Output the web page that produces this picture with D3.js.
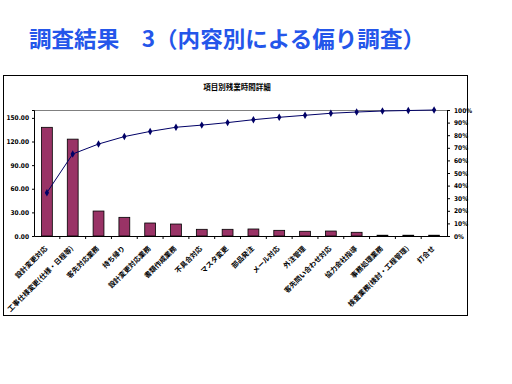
<!DOCTYPE html>
<html><head><meta charset="utf-8">
<script src="https://cdn.jsdelivr.net/npm/d3@7"></script>
<style>body{margin:0;background:#fff}svg{display:block}</style>
</head><body>
<script>
const categories = ["設計変更対応","工事仕様変更(仕様・日程等)","客先対応業務","持ち帰り","設計変更対応業務","書類作成業務","不具合対応","マスタ変更","部品発注","メール対応","外注管理","客先問い合わせ対応","協力会社指導","事務処理業務","検査業務(検討・工程管理)","打合せ"];
const hours = [138, 123, 31.7, 23.7, 16.5, 15.2, 8.5, 8.5, 8.9, 7.2, 6.0, 6.3, 4.7, 1.0, 1.0, 1.0];
const cumulativePct = [34.4, 65.1, 73.0, 78.9, 83.0, 86.3, 88.0, 90.0, 92.3, 94.2, 95.8, 97.4, 98.4, 99.2, 99.6, 100];
const leftTicks = [0, 30, 60, 90, 120, 150];
const rightTicks = [0,10,20,30,40,50,60,70,80,90,100];
const slideTitle = "調査結果　3（内容別による偏り調査）";
const chartTitle = "項目別残業時間詳細";

const W = 512, H = 384;
const svg = d3.select("body").append("svg").attr("width", W).attr("height", H);
const font = "'Noto Sans CJK JP', 'Noto Sans', sans-serif";

svg.append("text").attr("x", 29).attr("y", 47).attr("font-family", font)
  .attr("font-size", 22).attr("font-weight", "bold").attr("fill", "#2456ea")
  .attr("textLength", 396).attr("lengthAdjust", "spacingAndGlyphs").text(slideTitle);

// chart frame
svg.append("rect").attr("x", 3.5).attr("y", 75.5).attr("width", 464).attr("height", 240)
  .attr("fill", "#fff").attr("stroke", "#000").attr("stroke-width", 1);

svg.append("text").attr("x", 237).attr("y", 90).attr("text-anchor", "middle")
  .attr("font-family", font).attr("font-size", 7.5).attr("font-weight", "bold").text(chartTitle);

const L = 34, R = 447, T = 110, B = 236;
const x = d3.scaleBand().domain(categories).range([L, R]).paddingInner(0).paddingOuter(0);
const y = d3.scaleLinear().domain([0, 160]).range([B, T]);
const y2 = d3.scaleLinear().domain([0, 100]).range([B, T]);

// plot area top border
svg.append("line").attr("x1", L).attr("x2", R).attr("y1", T + 0.5).attr("y2", T + 0.5).attr("stroke", "#808080");

const bw = x.bandwidth() * 0.42;
svg.append("g").selectAll("rect").data(hours).join("rect")
  .attr("x", (d, i) => x(categories[i]) + (x.bandwidth() - bw) / 2)
  .attr("y", d => y(d)).attr("width", bw).attr("height", d => B - y(d))
  .attr("fill", "#993366").attr("stroke", "#000").attr("stroke-width", 0.8);

// left axis
const gl = svg.append("g").attr("transform", `translate(${L},0)`)
  .call(d3.axisLeft(y).tickValues(leftTicks).tickSize(2).tickFormat(d3.format(".2f")));
gl.selectAll("text").attr("font-family", "'DejaVu Sans Condensed', 'Liberation Sans Narrow', sans-serif")
  .attr("font-size", 6.5).attr("font-weight", "bold").attr("x", -5);

// right axis
const gr = svg.append("g").attr("transform", `translate(${R},0)`)
  .call(d3.axisRight(y2).tickValues(rightTicks).tickSize(3).tickFormat(d => d + "%"));
gr.selectAll("text").attr("font-family", "'DejaVu Sans Condensed', 'Liberation Sans Narrow', sans-serif")
  .attr("font-size", 6.5).attr("font-weight", "bold").attr("x", 7);

// bottom axis
const gb = svg.append("g").attr("transform", `translate(0,${B})`)
  .call(d3.axisBottom(x).tickSize(0).tickFormat(""));
gb.selectAll(".boundary").data(categories.slice(1)).join("line").attr("class", "boundary")
  .attr("x1", d => x(d)).attr("x2", d => x(d)).attr("y1", 0).attr("y2", 3).attr("stroke", "#000");
svg.selectAll(".domain").attr("stroke", "#000");

// category labels
svg.append("g").selectAll("text").data(categories).join("text")
  .attr("transform", d => `translate(${x(d) + x.bandwidth() / 2 + 1},${B + 13}) rotate(-45)`)
  .attr("text-anchor", "end").attr("font-family", font).attr("font-size", 7)
  .attr("font-weight", "bold").text(d => d);

// cumulative line
const line = d3.line().x((d, i) => x(categories[i]) + x.bandwidth() / 2).y(d => y2(d));
svg.append("path").datum(cumulativePct).attr("d", line).attr("fill", "none")
  .attr("stroke", "#000066").attr("stroke-width", 1);
svg.append("g").selectAll("path").data(cumulativePct).join("path")
  .attr("d", d3.symbol(d3.symbolDiamond, 16))
  .attr("transform", (d, i) => `translate(${x(categories[i]) + x.bandwidth() / 2},${y2(d)})`)
  .attr("fill", "#000066");
</script>
</body></html>
